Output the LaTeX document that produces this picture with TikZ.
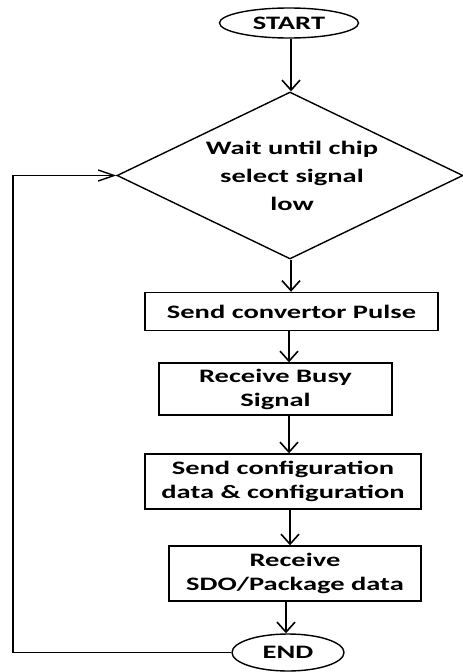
\documentclass[tikz,border=0pt]{standalone}
\usepackage{fontspec}
\setmainfont{Carlito}[FakeStretch=1.5]
\usetikzlibrary{shapes.geometric,arrows.meta}
\begin{document}
\begin{tikzpicture}[x=1pt,y=-1pt,
  every node/.style={font=\bfseries\fontsize{19}{24}\selectfont, align=center, inner sep=0pt},
  term/.style={draw, ellipse, line width=1.4pt},
  stepbox/.style={draw, rectangle, line width=1.4pt},
  decision/.style={draw, diamond, line width=1.4pt},
  arr/.style={line width=1.6pt, -{Straight Barb[length=10pt,width=18pt,line width=1.6pt]}},
  harr/.style={line width=1.4pt, -{Straight Barb[length=16pt,width=11pt,line width=1.4pt]}}]
\useasboundingbox (0,0) rectangle (463,672);
\node[term, minimum width=139pt, minimum height=30pt] (start) at (289,23) {START};
\node[decision, minimum width=346pt, minimum height=167pt] (wait) at (290,175.5) {};
\node[font=\bfseries\fontsize{19}{28}\selectfont] (waittxt) at (292,176) {Wait until chip\\select signal\\low};
\node[stepbox, minimum width=293pt, minimum height=38pt] (b1) at (291.5,311.5) {Send convertor Pulse};
\node[stepbox, minimum width=233pt, minimum height=52pt] (b2) at (275.5,389) {Receive Busy\\Signal};
\node[stepbox, minimum width=276pt, minimum height=55pt] (b3) at (283,481.5) {Send configuration\\data \& configuration};
\node[stepbox, minimum width=252pt, minimum height=55pt] (b4) at (295,573.5) {Receive\\SDO/Package data};
\node[term, minimum width=112pt, minimum height=37pt] (end) at (288,652.5) {END};
\coordinate (x1) at (291,0);
\coordinate (x2) at (289,0);
\coordinate (x3) at (290,0);
\coordinate (x4) at (286,0);
\coordinate (lp) at (13,0);
\draw[arr] (start.south -| x1) -- (wait.north -| x1);
\draw[arr] (wait.south -| x1) -- (b1.north -| x1);
\draw[arr] (b1.south -| x2) -- (b2.north -| x2);
\draw[arr] (b2.south -| x2) -- (b3.north -| x2);
\draw[arr] (b3.south -| x3) -- (b4.north -| x3);
\draw[arr] (b4.south -| x4) -- (end.north -| x4);
\draw[harr] (end.west) -- (end.west -| lp) |- (wait.west);
\end{tikzpicture}
\end{document}
